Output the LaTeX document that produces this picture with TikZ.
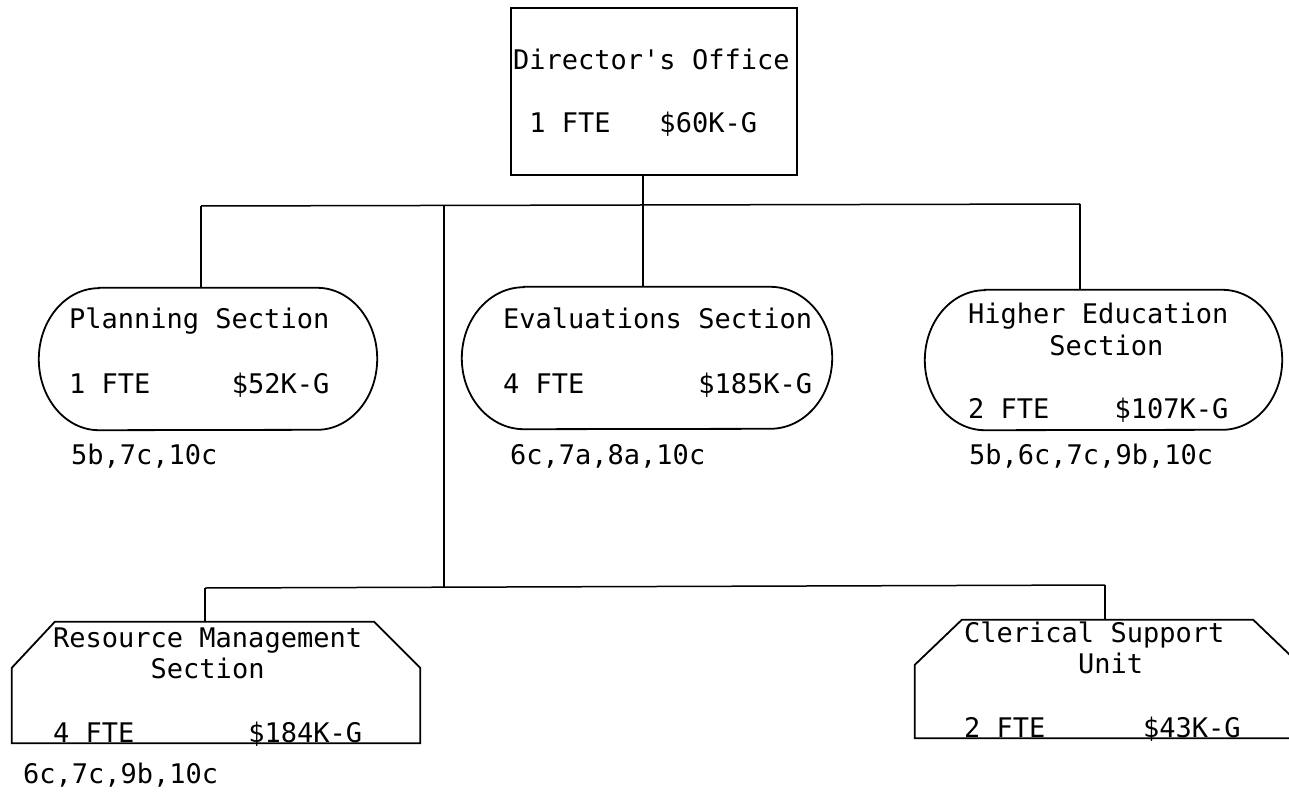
\documentclass[tikz,border=0pt]{standalone}
\usepackage{fontspec}
\newfontfamily\typew{DejaVu Sans Mono}
\begin{document}
\begin{tikzpicture}[x=1pt,y=-1pt,line join=miter,
  box/.style={draw,line width=1.8pt,inner sep=0pt},
  holder/.style={inner sep=0pt},
  outline/.style={line width=1.8pt},
  conn/.style={line width=1.5pt},
  txt/.style={anchor=base west,inner sep=0pt,font=\typew\fontsize{27}{30}\selectfont}]
\useasboundingbox (0,0) rectangle (1289,794);
% boxes
\node[box,rectangle,minimum width=286pt,minimum height=167pt] (dir) at (654,91.5) {};
\node[holder,minimum width=338pt,minimum height=142pt] (plan) at (208,359) {};
\node[holder,minimum width=370pt,minimum height=142pt] (eval) at (647,358) {};
\node[holder,minimum width=357pt,minimum height=140pt] (high) at (1103.5,360) {};
\draw[outline] ([xshift=60pt]plan.north west) -- ([xshift=-60pt]plan.north east)
  arc[start angle=90,end angle=-90,x radius=60pt,y radius=71pt]
  -- ([xshift=60pt]plan.south west)
  arc[start angle=270,end angle=90,x radius=60pt,y radius=71pt] -- cycle;
\draw[outline] ([xshift=62pt]eval.north west) -- ([xshift=-62pt]eval.north east)
  arc[start angle=90,end angle=-90,x radius=62pt,y radius=71pt]
  -- ([xshift=62pt]eval.south west)
  arc[start angle=270,end angle=90,x radius=62pt,y radius=71pt] -- cycle;
\draw[outline] ([xshift=60pt]high.north west) -- ([xshift=-60pt]high.north east)
  arc[start angle=90,end angle=-90,x radius=60pt,y radius=70pt]
  -- ([xshift=60pt]high.south west)
  arc[start angle=270,end angle=90,x radius=60pt,y radius=70pt] -- cycle;
\node[holder,minimum width=408pt,minimum height=121pt] (rm) at (216,682.5) {};
\node[holder,minimum width=385pt,minimum height=118pt] (cler) at (1107.5,679) {};
\draw[outline] ([xshift=43pt]rm.north west) -- ([xshift=-46pt]rm.north east)
  -- ([yshift=-46pt]rm.north east) -- (rm.south east) -- (rm.south west)
  -- ([yshift=-46pt]rm.north west) -- cycle;
\draw[outline] ([xshift=47pt]cler.north west) -- ([xshift=-47pt]cler.north east)
  -- ([yshift=-45pt]cler.north east) -- (cler.south east) -- (cler.south west)
  -- ([yshift=-45pt]cler.north west) -- cycle;
% connectors
\coordinate (pj) at (201,206);
\coordinate (j1) at (643,205);
\coordinate (tj) at (444,205);
\coordinate (hj) at (1080,204);
\coordinate (rj) at (205,588);
\coordinate (bj) at (444,587);
\coordinate (cj) at (1105,585);
\draw[conn] (pj) -- (hj);
\draw[conn] (j1 |- dir.south) -- (j1 |- eval.north);
\draw[conn] (pj) -- (pj |- plan.north);
\draw[conn] (hj) -- (hj |- high.north);
\draw[conn] (tj) -- (bj);
\draw[conn] (rj) -- (cj);
\draw[conn] (rj) -- (rj |- rm.north);
\draw[conn] (cj) -- (cj |- cler.north);
% texts
\node[txt] (d1) at (513,70) {Director's Office};
\node[txt] (d2) at (513,133) {\phantom{0}1 FTE\phantom{000}\$60K-G};
\node[txt] (p1) at (69,328) {Planning Section};
\node[txt] (p2) at (69,393) {1 FTE\phantom{00000}\$52K-G};
\node[txt] (p3) at (71,464) {5b,7c,10c};
\node[txt] (e1) at (503,328) {Evaluations Section};
\node[txt] (e2) at (503,393) {4 FTE\phantom{0000000}\$185K-G};
\node[txt] (e3) at (510,464) {6c,7a,8a,10c};
\node[txt] (h1) at (968,323) {Higher Education};
\node[txt] (h2) at (968,355) {\phantom{00000}Section};
\node[txt] (h3) at (968,418) {2 FTE\phantom{0000}\$107K-G};
\node[txt] (h4) at (969,464) {5b,6c,7c,9b,10c};
\node[txt] (r1) at (53,647) {Resource Management};
\node[txt] (r2) at (53,678) {\phantom{000000}Section};
\node[txt] (r3) at (53,742) {4 FTE\phantom{0000000}\$184K-G};
\node[txt] (r4) at (23,783) {6c,7c,9b,10c};
\node[txt] (c1) at (964,642) {Clerical Support};
\node[txt] (c2) at (964,673) {\phantom{0000000}Unit};
\node[txt] (c3) at (964,737) {2 FTE\phantom{000000}\$43K-G};
\end{tikzpicture}
\end{document}
